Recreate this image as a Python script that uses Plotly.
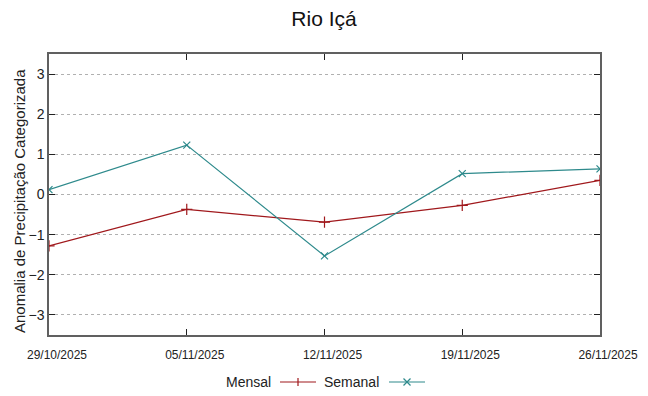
import plotly.graph_objects as go

dates = ["2025-10-29", "2025-11-05", "2025-11-12", "2025-11-19", "2025-11-26"]
tick_labels = ["29/10/2025", "05/11/2025", "12/11/2025", "19/11/2025", "26/11/2025"]
mensal = [-1.28, -0.37, -0.69, -0.27, 0.35]
semanal = [0.12, 1.23, -1.53, 0.52, 0.64]
series_names = ["Mensal", "Semanal"]
y_title = "Anomalia de Precipitação Categorizada"

RED = "#a0181c"
TEAL = "#2e8a8c"
AX = "#606060"
FONT = "Liberation Sans"

OFF = 8  # page body margin
W, H = 648 - OFF, 396 - OFF
L, R, T, B = 49 - OFF, 48, 54 - OFF, 61
PW, PH = W - L - R, H - T - B


def px(x):
    return (x - OFF - L) / PW


def py(y):
    return (H - B - (y - OFF)) / PH


fig = go.Figure()
fig.add_trace(go.Scatter(x=dates, y=mensal, name=series_names[0], mode="lines+markers",
                         line=dict(color=RED, width=1.2),
                         marker=dict(symbol="cross-thin", size=8, line=dict(color=RED, width=1.2))))
fig.add_trace(go.Scatter(x=dates, y=semanal, name=series_names[1], mode="lines+markers",
                         line=dict(color=TEAL, width=1.2),
                         marker=dict(symbol="x-thin", size=7, line=dict(color=TEAL, width=1.2))))

# gnuplot-style legend: text then sample line with marker
legend_y = 382
shapes = []
annotations = [dict(text=y_title, xref="paper", yref="paper", x=px(19), y=py(201), textangle=-90,
                    xanchor="center", yanchor="middle", showarrow=False,
                    font=dict(size=15, family=FONT, color="#222"))]
entries = [(series_names[0], RED, 273, 280, 316, "+"), (series_names[1], TEAL, 381, 389, 425, "x")]
for name, col, text_right, x0, x1, sym in entries:
    annotations.append(dict(text=name, xref="paper", yref="paper", x=px(text_right), y=py(legend_y),
                            xanchor="right", yanchor="middle", showarrow=False,
                            font=dict(size=14, family=FONT, color="#222")))
    shapes.append(dict(type="line", xref="paper", yref="paper", x0=px(x0), x1=px(x1),
                       y0=py(legend_y), y1=py(legend_y), line=dict(color=col, width=1.2)))
    cx = (x0 + x1) / 2
    if sym == "+":
        shapes.append(dict(type="line", xref="paper", yref="paper", x0=px(cx), x1=px(cx),
                           y0=py(legend_y - 4), y1=py(legend_y + 4), line=dict(color=col, width=1.2)))
    else:
        shapes.append(dict(type="line", xref="paper", yref="paper", x0=px(cx - 3.5), x1=px(cx + 3.5),
                           y0=py(legend_y - 3.5), y1=py(legend_y + 3.5), line=dict(color=col, width=1.2)))
        shapes.append(dict(type="line", xref="paper", yref="paper", x0=px(cx - 3.5), x1=px(cx + 3.5),
                           y0=py(legend_y + 3.5), y1=py(legend_y - 3.5), line=dict(color=col, width=1.2)))

fig.update_layout(
    width=W, height=H,
    margin=dict(l=L, r=R, t=T, b=B),
    paper_bgcolor="white", plot_bgcolor="white",
    font=dict(family=FONT, color="#222"),
    title=dict(text="Rio Içá", x=px(324), xanchor="center", xref="paper", yref="container",
               y=1 - (19 - OFF) / H, yanchor="middle", font=dict(size=21, color="#111")),
    showlegend=False,
    shapes=shapes,
    annotations=annotations,
    xaxis=dict(type="date", range=[dates[0], dates[-1]], tickvals=dates, ticktext=tick_labels,
               automargin=False, showgrid=False, zeroline=False, showline=True, linecolor=AX,
               linewidth=1.5, mirror="ticks", ticks="inside", ticklen=6, tickcolor="#222",
               ticklabelshift=8, ticklabelstandoff=8,
               tickfont=dict(size=12, family=FONT, color="#222")),
    yaxis=dict(range=[-3.5, 3.5], tickvals=[-3, -2, -1, 0, 1, 2, 3], showgrid=True,
               automargin=False, gridcolor="#b0b0b0", griddash="dot", gridwidth=1, zeroline=False,
               showline=True, linecolor=AX, linewidth=1.5, mirror="ticks", ticks="inside",
               ticklen=6, tickcolor="#222",
               tickfont=dict(size=14, color="#222")),
)

fig.write_html("out.html")
